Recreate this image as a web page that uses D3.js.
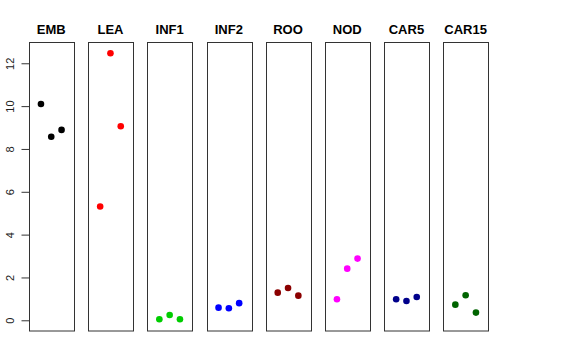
<!DOCTYPE html>
<html><head><meta charset="utf-8">
<script src="https://cdn.jsdelivr.net/npm/d3@7"></script>
<style>body{margin:0;background:#fff}svg{display:block}</style>
</head><body>
<script>
const categories = ["EMB","LEA","INF1","INF2","ROO","NOD","CAR5","CAR15"];
const colors = ["#000000","#FF0000","#00CD00","#0000FF","#8B0000","#FF00FF","#00008B","#006400"];
const values = [
  [10.10, 8.57, 8.89],
  [5.31, 12.47, 9.06],
  [0.05, 0.25, 0.05],
  [0.59, 0.56, 0.80],
  [1.29, 1.51, 1.15],
  [0.98, 2.41, 2.88],
  [0.98, 0.90, 1.09],
  [0.73, 1.17, 0.36]
];
const yTicks = [0,2,4,6,8,10,12];

(function(){
const W=576,H=360;
const svg=d3.select("body").append("svg").attr("width",W).attr("height",H);
const pTop=42.5, pBottom=331, panelW=44.5, step=59.2, left0=29;
const y=d3.scaleLinear().domain([-0.5,12.97]).range([pBottom,pTop]);
const font="Liberation Sans, Arial, sans-serif";

categories.forEach((c,i)=>{
  const x0=left0+i*step;
  const x=d3.scaleLinear().domain([-0.16,4.16]).range([x0,x0+panelW]);
  const g=svg.append("g");
  g.append("rect").attr("x",Math.round(x0)+0.5).attr("y",pTop)
    .attr("width",Math.round(panelW)).attr("height",pBottom-pTop)
    .attr("fill","none").attr("stroke","#333").attr("stroke-width",1);
  g.append("text").attr("x",x0+panelW/2).attr("y",34).attr("text-anchor","middle")
    .attr("font-family",font).attr("font-weight","bold")
    .attr("font-size",13).text(c);
  g.selectAll("circle").data(values[i]).join("circle")
    .attr("cx",(d,j)=>x(j+1)).attr("cy",d=>y(d)).attr("r",3.3).attr("fill",colors[i]);
});

const ax=svg.append("g").attr("transform",`translate(${left0+0.5},0)`)
  .call(d3.axisLeft(y).tickValues(yTicks).tickSize(8).tickPadding(4).tickSizeOuter(0));
ax.select(".domain").remove();
ax.selectAll(".tick line").attr("stroke","#333");
ax.selectAll(".tick text").attr("font-family",font).attr("font-size",11).attr("fill","#222")
  .attr("x",0).attr("y",-19).attr("dy","0.35em").attr("text-anchor","middle")
  .attr("transform","rotate(-90)");
})();
</script>
</body></html>
